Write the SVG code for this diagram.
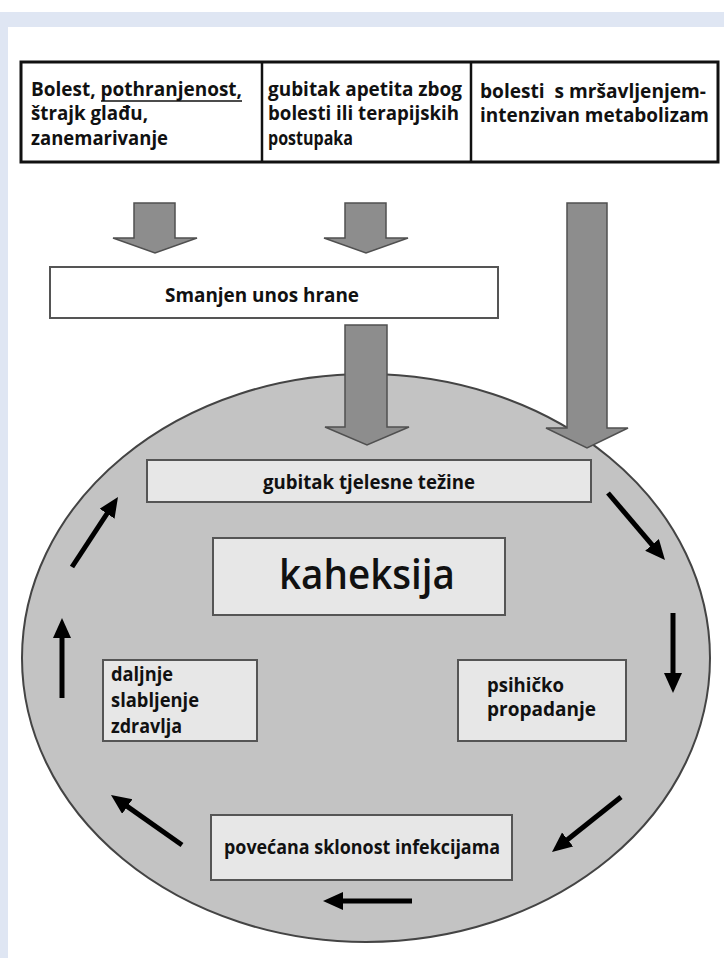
<svg xmlns="http://www.w3.org/2000/svg" width="724" height="958" viewBox="0 0 724 958">
<style>
.t{font-family:"Open Sans","Noto Sans","Liberation Sans",sans-serif;fill:#111}
.tb{font-size:19px;font-weight:700}
.tm{font-size:19px;font-weight:700}
.box{fill:#e7e7e7;stroke:#555;stroke-width:2}
.garrow{fill:#8d8d8d;stroke:#505050;stroke-width:1.5;stroke-linejoin:miter}
.barrow{stroke:#000;stroke-width:5;fill:none;marker-end:url(#ah)}
</style>
<defs>
<marker id="ah" markerUnits="userSpaceOnUse" markerWidth="22" markerHeight="20" refX="8" refY="9" orient="auto" viewBox="0 0 22 20">
<path d="M0,0 L20,9 L0,18 z" fill="#000"/>
</marker>
</defs>
<rect x="0" y="0" width="724" height="958" fill="#ffffff"/>
<rect x="0" y="12" width="724" height="15" fill="#dfe6f3"/>
<rect x="0" y="12" width="8" height="946" fill="#dfe6f3"/>

<g id="table">
<rect x="21" y="62" width="697" height="100" fill="#fff" stroke="#111" stroke-width="3"/>
<line x1="262" y1="62" x2="262" y2="162" stroke="#111" stroke-width="2.5"/>
<line x1="471" y1="62" x2="471" y2="162" stroke="#111" stroke-width="2.5"/>
</g>
<g id="cause1">
<text class="t tb" x="31" y="96" textLength="211" lengthAdjust="spacingAndGlyphs">Bolest, pothranjenost,</text>
<line x1="101" y1="101" x2="242" y2="101" stroke="#111" stroke-width="1.5"/>
<text class="t tb" x="31" y="120" textLength="117" lengthAdjust="spacingAndGlyphs">štrajk glađu,</text>
<text class="t tb" x="31" y="145" textLength="137" lengthAdjust="spacingAndGlyphs">zanemarivanje</text>
</g>
<g id="cause2">
<text class="t tb" x="268" y="96" textLength="194" lengthAdjust="spacingAndGlyphs">gubitak apetita zbog</text>
<text class="t tb" x="268" y="120" textLength="191" lengthAdjust="spacingAndGlyphs">bolesti ili terapijskih</text>
<text class="t tb" x="268" y="145" textLength="85" lengthAdjust="spacingAndGlyphs">postupaka</text>
</g>
<g id="cause3">
<text class="t tb" x="480" y="98" textLength="226" lengthAdjust="spacingAndGlyphs" xml:space="preserve">bolesti  s mršavljenjem-</text>
<text class="t tb" x="480" y="122" textLength="229" lengthAdjust="spacingAndGlyphs">intenzivan metabolizam</text>
</g>

<g id="smanjen">
<rect x="50" y="267" width="448" height="51" fill="#fff" stroke="#555" stroke-width="2"/>
<text class="t tm" x="262" y="302" text-anchor="middle" textLength="194" lengthAdjust="spacingAndGlyphs">Smanjen unos hrane</text>
</g>

<g id="cycle">
<ellipse cx="366" cy="658" rx="344" ry="284" fill="#c3c3c3" stroke="#444" stroke-width="2"/>
</g>

<g id="gubitak">
<rect class="box" x="147" y="460" width="444" height="42"/>
<text class="t tm" x="369" y="489" text-anchor="middle" textLength="212" lengthAdjust="spacingAndGlyphs">gubitak tjelesne težine</text>
</g>
<g id="kaheksija">
<rect class="box" x="213" y="538" width="292" height="77"/>
<text class="t" x="367" y="589" text-anchor="middle" font-size="42" font-weight="600" textLength="176" lengthAdjust="spacingAndGlyphs">kaheksija</text>
</g>
<g id="daljnje">
<rect class="box" x="103" y="660" width="154" height="81"/>
<text class="t tm" x="111" y="681" textLength="62" lengthAdjust="spacingAndGlyphs">daljnje</text>
<text class="t tm" x="111" y="707" textLength="88" lengthAdjust="spacingAndGlyphs">slabljenje</text>
<text class="t tm" x="111" y="733" textLength="71" lengthAdjust="spacingAndGlyphs">zdravlja</text>
</g>
<g id="psihicko">
<rect class="box" x="458" y="660" width="168" height="81"/>
<text class="t tm" x="487" y="692" textLength="77" lengthAdjust="spacingAndGlyphs">psihičko</text>
<text class="t tm" x="487" y="716" textLength="109" lengthAdjust="spacingAndGlyphs">propadanje</text>
</g>
<g id="povecana">
<rect class="box" x="211" y="815" width="301" height="65"/>
<text class="t tm" x="362" y="854" text-anchor="middle" textLength="276" lengthAdjust="spacingAndGlyphs">povećana sklonost infekcijama</text>
</g>

<g id="connectors">
<polygon class="garrow" points="134,203 175,203 175,238 197,238 155,253 113,238 134,238"/>
<polygon class="garrow" points="345,203 386,203 386,238 408,238 366,253 324,238 345,238"/>
<polygon class="garrow" points="567,203 607,203 607,428 628,428 587,448 546,428 567,428"/>
<polygon class="garrow" points="345,325 387,325 387,427 409,427 367,445 325,427 345,427"/>
<line class="barrow" x1="72" y1="567" x2="111.4" y2="507"/>
<line class="barrow" x1="62" y1="698" x2="62" y2="630"/>
<line class="barrow" x1="608" y1="493" x2="657.2" y2="550.9"/>
<line class="barrow" x1="673" y1="613" x2="673" y2="681"/>
<line class="barrow" x1="621" y1="797" x2="561.4" y2="844.5"/>
<line class="barrow" x1="182" y1="845" x2="120.8" y2="801.9"/>
<line class="barrow" x1="412" y1="901" x2="335" y2="901"/>
</g>
</svg>
